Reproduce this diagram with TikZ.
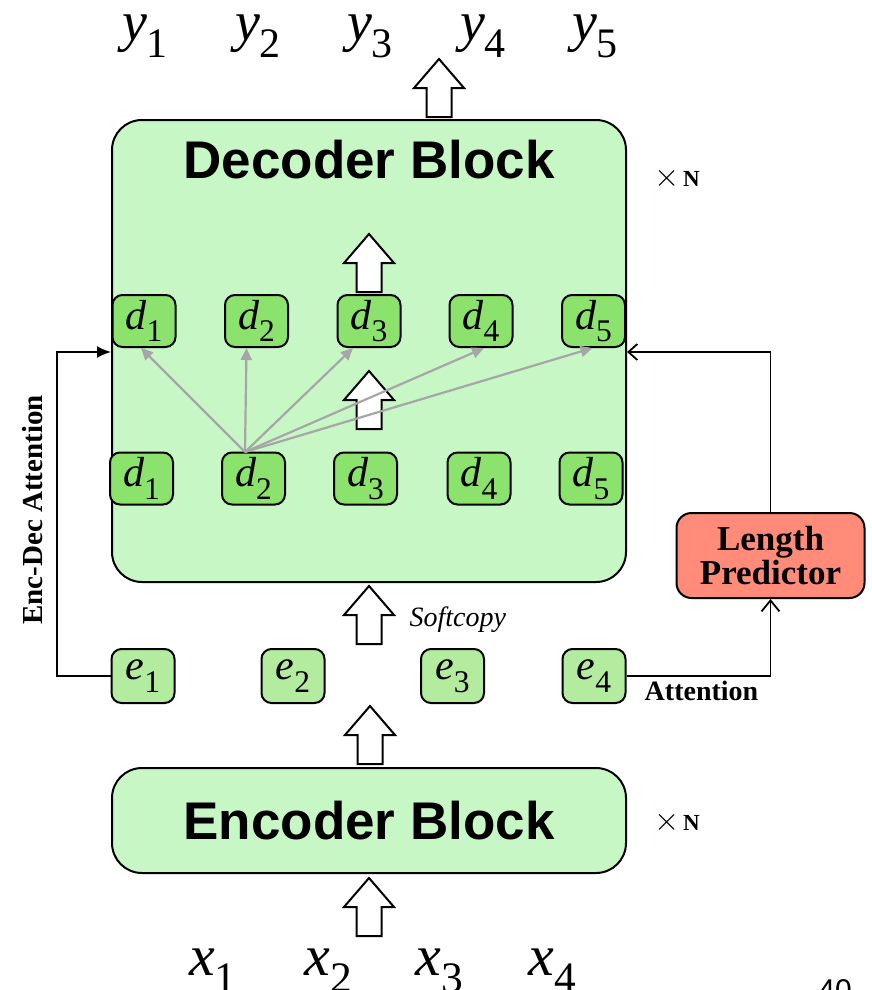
\documentclass[tikz,border=0pt]{standalone}
\usepackage{fontspec}
\setmainfont{Liberation Serif}
\setsansfont{Liberation Sans}
\usepackage{graphicx}
\usetikzlibrary{arrows.meta}
\definecolor{decfill}{RGB}{200,247,198}
\definecolor{dfill}{RGB}{139,227,110}
\definecolor{efill}{RGB}{179,235,159}
\definecolor{lenfill}{RGB}{255,139,120}
\definecolor{attgray}{RGB}{166,166,166}
\newcommand\tok[2]{\textit{#1}\raisebox{-0.3em}{\scalebox{0.75}{#2}}}
\newcommand\repN{\scalebox{1.3}{$\times$}\,\textbf{N}}

\begin{document}
\begin{tikzpicture}[x=1pt,y=-1pt,
  blockbox/.style={draw,line width=2pt,rounded corners=30pt,fill=decfill,minimum width=514pt},
  tokbox/.style={draw,line width=2pt,rounded corners=10pt,minimum width=63pt,minimum height=52pt,
    inner sep=0pt,font=\fontsize{42}{42}\selectfont},
  dtok/.style={tokbox,fill=dfill},
  etok/.style={tokbox,fill=efill,minimum height=54pt},
  attn/.style={attgray,line width=2.2pt,-{Triangle[length=12pt,width=11pt]}},
  link/.style={line width=1.8pt},
  pics/uparrow/.style={code={%
    \draw[line width=2pt,fill=white,line join=miter]
      (0,0) -- (25,29) -- (12.5,29) -- (12.5,58) -- (-12.5,58) -- (-12.5,29) -- (-25,29) -- cycle;}}
]
  \useasboundingbox (0,0) rectangle (872,990);
  \clip (0,0) rectangle (872,990);

  % blocks
  \node[blockbox,minimum height=462pt] (dec) at (369,351) {};
  \node[font=\sffamily\bfseries\fontsize{53}{53}\selectfont,anchor=base] (dectitle) at (369,178) {Decoder Block};
  \node[blockbox,minimum height=105pt,font=\sffamily\bfseries\fontsize{53}{53}\selectfont] (enc) at (369,820.5) {Encoder Block};
  \node[draw,line width=2pt,rounded corners=15pt,fill=lenfill,minimum width=188pt,minimum height=85pt,
    align=center,font=\bfseries\fontsize{35}{34}\selectfont] (len) at (770.5,555.5) {Length\\Predictor};

  % tokens
  \foreach \i/\x in {1/145,2/258,3/370,4/483,5/595}
    \node[font=\fontsize{56}{56}\selectfont,anchor=base] (y\i) at (\x,41) {\tok{y}{\i}};
  \foreach \i/\x in {1/144,2/256.5,3/369,4/481,5/593.5}
    \node[dtok] (dt\i) at (\x,321) {\tok{d}{\i}};
  \foreach \i/\x in {1/141.5,2/253.5,3/365.5,4/479,5/591}
    \node[dtok] (db\i) at (\x,478.5) {\tok{d}{\i}};
  \foreach \i/\x in {1/143,2/293,3/452.5,4/594}
    \node[etok] (e\i) at (\x,676) {\tok{e}{\i}};
  \foreach \i/\x in {1/213,2/328,3/439,4/552}
    \node[font=\fontsize{58}{58}\selectfont,anchor=base] (x\i) at (\x,975) {\tok{x}{\i}};

  % block arrows
  \foreach \x/\y in {439/59,369/234,369/371,369/586,370/706,369/878}
    \pic at (\x,\y) {uparrow};

  % self attention of d2
  \coordinate (src) at (245,452);
  \foreach \j/\off in {1/-3,2/-10,3/-16,4/3,5/-1}
    \draw[attn] (src) -- ([xshift=\off pt]dt\j.south);

  % side connections
  \coordinate (turn) at (57,352);
  \draw[link,-{Latex[length=14pt,width=12pt]}] (e1.west) -| (turn) -- (turn -| dec.west);
  \draw[link,-{Straight Barb[length=9pt,width=16pt]}] (len.north) |- (turn -| dec.east);
  \draw[link,-{Straight Barb[length=11pt,width=18pt]}] (e4.east) -| (len.south);

  % labels
  \node[rotate=90,font=\bfseries\fontsize{29}{29}\selectfont] (encdec) at (33,510) {Enc-Dec Attention};
  \node[font=\bfseries\fontsize{28}{28}\selectfont,anchor=base] (attlbl) at (701.5,700) {Attention};
  \node[font=\itshape\fontsize{28}{28}\selectfont,anchor=base west] (soft) at (406,626) {Softcopy};
  \node[font=\fontsize{23}{23}\selectfont,anchor=base] (decn) at (677,186) {\repN};
  \node[font=\fontsize{23}{23}\selectfont,anchor=base] (encn) at (677,830) {\repN};
  \node[font=\sffamily\fontsize{30}{30}\selectfont,anchor=base] (pagenum) at (835,1000) {40};
\end{tikzpicture}
\end{document}
